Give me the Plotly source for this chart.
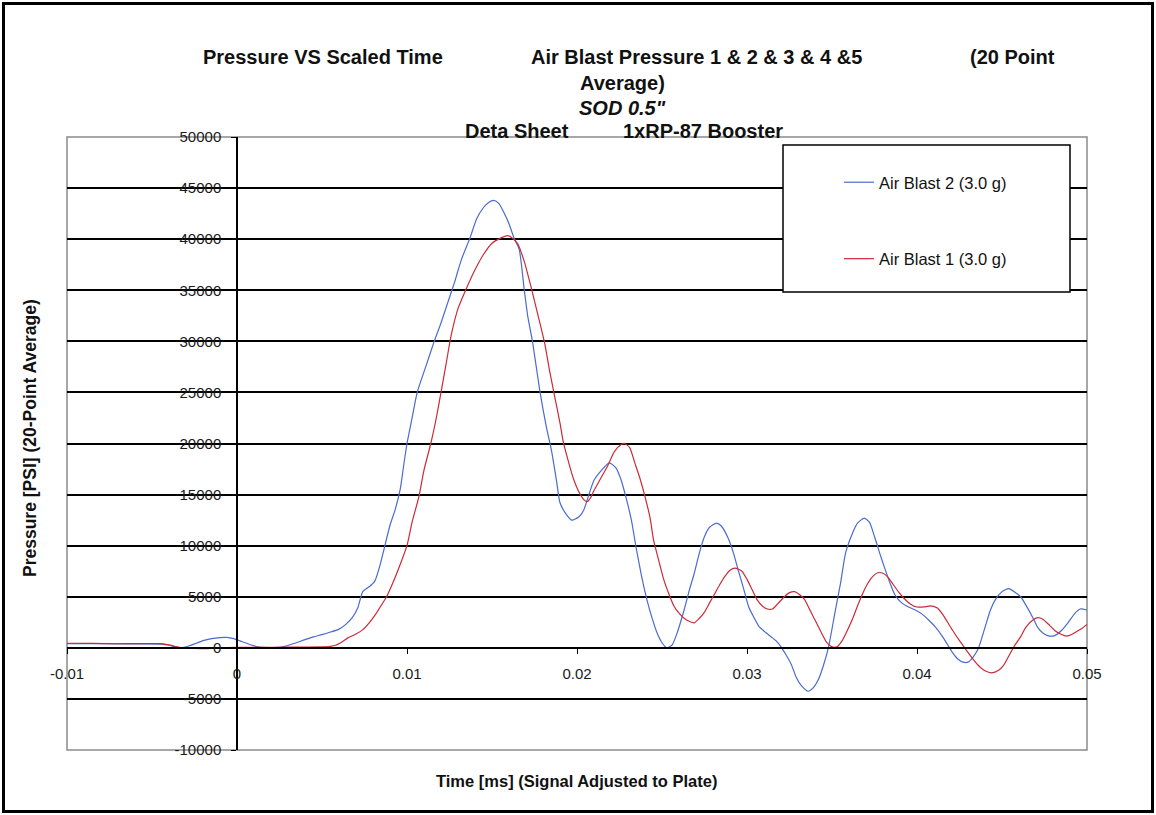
import plotly.graph_objects as go

# ---- data -------------------------------------------------------------
# Air Blast 2 (3.0 g): time [ms] / pressure [PSI], 20-point average
blast2_time = [
    -0.0100, -0.0085, -0.0070, -0.0055, -0.0045, -0.0040, -0.0036, -0.0032, -0.0028, -0.0024,
    -0.0020, -0.0015, -0.0010, -0.0006, -0.0002, 0.0003, 0.0008, 0.0013, 0.0018, 0.0024,
    0.0028, 0.0033, 0.0040, 0.0045, 0.0050, 0.0055, 0.0060, 0.0064, 0.0068, 0.0071,
    0.0074, 0.0078, 0.0081, 0.0084, 0.0087, 0.0090, 0.0093, 0.0096, 0.0098, 0.0100,
    0.0103, 0.0106, 0.0111, 0.0116, 0.0120, 0.0124, 0.0128, 0.0132, 0.0137, 0.0141,
    0.0145, 0.0148, 0.0151, 0.0154, 0.0157, 0.0160, 0.0163, 0.0166, 0.0169, 0.0171,
    0.0174, 0.0178, 0.0182, 0.0185, 0.0188, 0.0190, 0.0194, 0.0197, 0.0201, 0.0204,
    0.0207, 0.0210, 0.0214, 0.0219, 0.0223, 0.0226, 0.0229, 0.0232, 0.0235, 0.0238,
    0.0241, 0.0244, 0.0247, 0.0250, 0.0253, 0.0256, 0.0259, 0.0263, 0.0266, 0.0269,
    0.0272, 0.0275, 0.0278, 0.0282, 0.0285, 0.0289, 0.0292, 0.0295, 0.0298, 0.0301,
    0.0304, 0.0307, 0.0311, 0.0314, 0.0317, 0.0320, 0.0323, 0.0326, 0.0329, 0.0332,
    0.0336, 0.0339, 0.0342, 0.0345, 0.0348, 0.0352, 0.0355, 0.0358, 0.0362, 0.0365,
    0.0369, 0.0372, 0.0375, 0.0378, 0.0381, 0.0384, 0.0387, 0.0391, 0.0395, 0.0399,
    0.0403, 0.0407, 0.0411, 0.0415, 0.0418, 0.0421, 0.0424, 0.0427, 0.0430, 0.0433,
    0.0436, 0.0440, 0.0443, 0.0446, 0.0450, 0.0454, 0.0458, 0.0461, 0.0464, 0.0468,
    0.0471, 0.0474, 0.0478, 0.0481, 0.0485, 0.0489, 0.0493, 0.0496, 0.0500,
]
blast2_psi = [
    400, 420, 390, 380, 360, 250, 80, 30, 200, 450,
    700, 900, 1000, 1020, 900, 600, 300, 80, 20, 40,
    150, 400, 800, 1070, 1300, 1550, 1830, 2300, 3000, 3900,
    5500, 6000, 6500, 8000, 10000, 12000, 13500, 15500, 17800, 20000,
    22500, 25000, 27500, 30000, 31800, 33800, 35800, 38000, 40100, 42000,
    43100, 43600, 43800, 43500, 42600, 41500, 40100, 39000, 35000, 32500,
    29800, 25300, 21600, 19300, 16300, 14200, 13000, 12500, 12800, 13500,
    15000, 16400, 17300, 18100, 17600, 16400, 14600, 12500, 9600, 7000,
    4800, 3000, 1500, 500, 0, 300, 1500, 3700, 5600, 7300,
    9300, 10900, 11800, 12200, 11900, 10700, 9300, 7500, 5800, 4000,
    3000, 2100, 1500, 1100, 700, 100, -700, -1600, -2900, -3700,
    -4250, -3900, -3100, -1700, 100, 3700, 6300, 9300, 11200, 12200,
    12700, 12300, 10900, 9300, 7800, 6400, 5200, 4400, 4000, 3700,
    3300, 2700, 2000, 1100, 300, -500, -1100, -1400, -1400, -900,
    -100, 2000, 3600, 4700, 5500, 5800, 5400, 5000, 4200, 3000,
    2000, 1450, 1150, 1200, 1700, 2500, 3400, 3800, 3700,
]

# Air Blast 1 (3.0 g)
blast1_time = [
    -0.0100, -0.0085, -0.0070, -0.0055, -0.0045, -0.0040, -0.0036, -0.0032, -0.0025, -0.0018,
    -0.0010, 0.0000, 0.0010, 0.0020, 0.0030, 0.0040, 0.0050, 0.0055, 0.0058, 0.0062,
    0.0065, 0.0070, 0.0074, 0.0078, 0.0082, 0.0085, 0.0088, 0.0091, 0.0094, 0.0097,
    0.0100, 0.0103, 0.0107, 0.0110, 0.0114, 0.0117, 0.0120, 0.0123, 0.0126, 0.0130,
    0.0135, 0.0140, 0.0145, 0.0150, 0.0155, 0.0159, 0.0162, 0.0165, 0.0169, 0.0173,
    0.0177, 0.0181, 0.0184, 0.0187, 0.0190, 0.0192, 0.0195, 0.0198, 0.0201, 0.0204,
    0.0206, 0.0208, 0.0210, 0.0214, 0.0218, 0.0222, 0.0226, 0.0228, 0.0231, 0.0234,
    0.0237, 0.0240, 0.0243, 0.0245, 0.0248, 0.0251, 0.0254, 0.0257, 0.0260, 0.0263,
    0.0266, 0.0269, 0.0272, 0.0275, 0.0278, 0.0281, 0.0284, 0.0287, 0.0290, 0.0293,
    0.0297, 0.0300, 0.0303, 0.0306, 0.0309, 0.0312, 0.0315, 0.0318, 0.0322, 0.0325,
    0.0328, 0.0331, 0.0334, 0.0337, 0.0341, 0.0344, 0.0347, 0.0350, 0.0353, 0.0356,
    0.0359, 0.0362, 0.0365, 0.0368, 0.0371, 0.0374, 0.0377, 0.0380, 0.0383, 0.0386,
    0.0389, 0.0392, 0.0396, 0.0400, 0.0404, 0.0408, 0.0412, 0.0415, 0.0418, 0.0421,
    0.0425, 0.0428, 0.0432, 0.0436, 0.0440, 0.0444, 0.0448, 0.0451, 0.0454, 0.0457,
    0.0461, 0.0464, 0.0468, 0.0471, 0.0474, 0.0478, 0.0481, 0.0485, 0.0488, 0.0491,
    0.0494, 0.0497, 0.0500,
]
blast1_psi = [
    450, 430, 400, 410, 420, 300, 120, 0, -60, -80,
    0, 40, 40, 50, 60, 80, 100, 150, 250, 600,
    950, 1350, 1780, 2500, 3400, 4200, 5000, 6100, 7300, 8600,
    10000, 12300, 14800, 17400, 20000, 22300, 25000, 27800, 30600, 33200,
    35200, 37000, 38500, 39600, 40100, 40350, 40100, 39600, 37800, 35300,
    32600, 29800, 27000, 24500, 22000, 20100, 18200, 16500, 15300, 14500,
    14300, 14700, 15400, 16600, 17800, 19200, 19900, 20000, 19600, 18100,
    16600, 14800, 12700, 10600, 8600, 6700, 5300, 4100, 3400, 2900,
    2600, 2450, 2900, 3500, 4400, 5300, 6200, 7000, 7600, 7800,
    7500, 6700, 5700, 4700, 4100, 3800, 3800, 4300, 5000, 5400,
    5500, 5200, 4700, 3700, 2400, 1400, 500, 100, 100, 700,
    1700, 2800, 4100, 5300, 6300, 7000, 7350, 7300, 6900, 6200,
    5500, 4900, 4300, 4000, 4000, 4100, 3900, 3300, 2500, 1700,
    700, 0, -900, -1700, -2250, -2450, -2200, -1700, -800, 100,
    1100, 2000, 2700, 2950, 2800, 2200, 1700, 1300, 1150, 1300,
    1600, 1900, 2300,
]

x_ticks = [-0.01, 0.0, 0.01, 0.02, 0.03, 0.04, 0.05]
x_tick_labels = ["-0.01", "0", "0.01", "0.02", "0.03", "0.04", "0.05"]
y_ticks = [-10000, -5000, 0, 5000, 10000, 15000, 20000, 25000, 30000, 35000, 40000, 45000, 50000]
y_tick_labels = ["-10000", "-5000", "0", "5000", "10000", "15000", "20000",
                 "25000", "30000", "35000", "40000", "45000", "50000"]

# ---- page geometry ----------------------------------------------------
W, H = 1156, 815
L, R, T, B = 67, 1087, 137, 750          # plot-area edges in pixels
FONT = "Liberation Sans, Arial, sans-serif"


def fx(px):
    """pixel column -> paper x"""
    return (px - L) / (R - L)


def fy(py):
    """pixel row -> paper y"""
    return (B - py) / (B - T)


X_RANGE = [-0.01, 0.05]
Y_RANGE = [-10000, 50000]
y_axis_pos = (0 - X_RANGE[0]) / (X_RANGE[1] - X_RANGE[0])   # vertical axis sits at t = 0
x_axis_pos = (0 - Y_RANGE[0]) / (Y_RANGE[1] - Y_RANGE[0])   # horizontal axis sits at p = 0

fig = go.Figure()
fig.add_trace(go.Scatter(
    x=blast2_time, y=blast2_psi, mode="lines", name="Air Blast 2 (3.0 g)",
    line=dict(color="#4a6bd0", width=1.2, shape="spline", smoothing=0.6),
    legendgroup="b2",
))
fig.add_trace(go.Scatter(
    x=blast1_time, y=blast1_psi, mode="lines", name="Air Blast 1 (3.0 g)",
    line=dict(color="#cc2a36", width=1.2, shape="spline", smoothing=0.6),
    legendgroup="b1",
))

tick_font = dict(family=FONT, size=15, color="#1a1a1a")

fig.update_layout(
    width=W, height=H,
    margin=dict(l=L, r=W - R, t=T, b=H - B, pad=0),
    paper_bgcolor="white", plot_bgcolor="white",
    showlegend=True,
    legend=dict(
        x=fx(839), y=fy(165), xanchor="left", yanchor="top",
        bgcolor="rgba(0,0,0,0)", borderwidth=0,
        font=dict(family=FONT, size=16.5, color="#111"),
        tracegroupgap=52, itemwidth=30,
    ),
    xaxis=dict(
        range=X_RANGE, domain=[0, 1], anchor="free", position=x_axis_pos,
        tickmode="array", tickvals=x_ticks, ticktext=x_tick_labels,
        showgrid=False, zeroline=False,
        showline=True, linecolor="black", linewidth=1.5,
        ticks="outside", ticklen=5, tickwidth=1.3, tickcolor="black",
        tickfont=tick_font, ticklabelstandoff=7,
    ),
    yaxis=dict(
        range=Y_RANGE, domain=[0, 1], anchor="free", position=y_axis_pos,
        tickmode="array", tickvals=y_ticks, ticktext=y_tick_labels,
        showgrid=True, gridcolor="black", gridwidth=1.5, zeroline=False,
        showline=True, linecolor="black", linewidth=1.5,
        ticks="outside", ticklen=5, tickwidth=1.3, tickcolor="black",
        tickfont=tick_font, ticklabelstandoff=7,
    ),
)

shapes = [
    # plot-area frame
    dict(type="rect", xref="paper", yref="paper", x0=0, x1=1, y0=0, y1=1,
         line=dict(color="#8a8a8a", width=1.5), layer="between"),
    # legend box
    dict(type="rect", xref="paper", yref="paper",
         x0=fx(783), x1=fx(1070), y0=fy(292), y1=fy(145),
         line=dict(color="black", width=1.5), fillcolor="white", layer="above"),
    # outer chart border
    dict(type="rect", xref="paper", yref="paper",
         x0=fx(3.5), x1=fx(1152.5), y0=fy(811.5), y1=fy(3.5),
         line=dict(color="black", width=3), layer="above"),
]
fig.update_layout(shapes=shapes)

title_font = dict(family=FONT, size=20, color="#111")


def label(text, px, py, anchor="left", font=title_font, angle=0):
    fig.add_annotation(
        text=text, xref="paper", yref="paper", x=fx(px), y=fy(py),
        xanchor=anchor, yanchor="middle", showarrow=False, font=font,
        textangle=angle,
    )


label("<b>Pressure VS Scaled Time</b>", 201, 57)
label("<b>Air Blast Pressure 1 &amp; 2 &amp; 3 &amp; 4 &amp;5</b>", 529, 57)
label("<b>(20 Point</b>", 968, 57)
label("<b>Average)</b>", 622, 83, anchor="center")
label("<b><i>SOD 0.5\"</i></b>", 622, 108, anchor="center")
label("<b>Deta Sheet</b>", 463, 131)
label("<b>1xRP-87 Booster</b>", 785, 131, anchor="right")

axis_title_font = dict(family=FONT, size=16.5, color="#111")
label("<b>Time [ms] (Signal Adjusted to Plate)</b>", 576, 781, anchor="center",
      font=axis_title_font)
label("<b>Pressure [PSI] (20-Point Average)</b>", 30, 438, anchor="center",
      font=dict(family=FONT, size=17.5, color="#111"), angle=-90)

fig.write_html("out.html")
